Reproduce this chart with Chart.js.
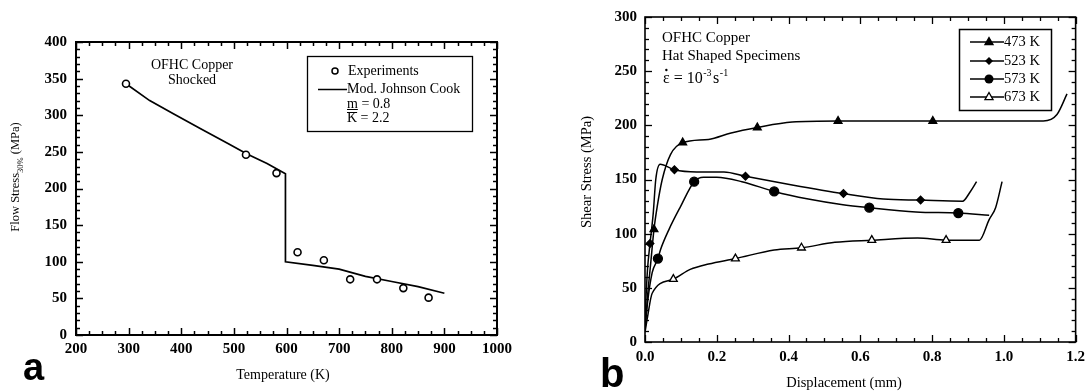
<!DOCTYPE html>
<html><head><meta charset="utf-8">
<script src="https://cdn.jsdelivr.net/npm/chart.js@4"></script>
<style>
html,body{margin:0;padding:0;background:#fff;}
#wrap{position:relative;width:1091px;height:392px;overflow:hidden;background:#fff;}
canvas{position:absolute;top:0;}
#ca{left:0;} #cb{left:545px;}
</style></head><body>
<div id="wrap"><canvas id="ca" width="545" height="392"></canvas><canvas id="cb" width="546" height="392"></canvas></div>
<script>
// ---------- Panel a data ----------
const tempTicks = [200, 300, 400, 500, 600, 700, 800, 900, 1000];
const tempTickLabels = ['200', '300', '400', '500', '600', '700', '800', '900', '1000'];
const flowTicks = [0, 50, 100, 150, 200, 250, 300, 350, 400];
const expTemp   = [295, 523, 581, 621, 671, 721, 772, 822, 870];
const expStress = [343, 246, 221, 113, 102, 76, 76, 64, 51];
const jcTemp    = [295, 340, 385, 436, 487, 525, 563, 598, 598, 650, 700, 750, 800, 850, 900];
const jcStress  = [343, 320, 302, 282, 262, 247, 234, 220, 100, 95, 90, 80, 73, 66, 57];

// ---------- Panel b data ----------
const dispTicks = [0, 0.2, 0.4, 0.6, 0.8, 1.0, 1.2];
const dispTickLabels = ['0.0', '0.2', '0.4', '0.6', '0.8', '1.0', '1.2'];
const shearTicks = [0, 50, 100, 150, 200, 250, 300];

const k473X = [0.0, 0.007, 0.016, 0.025, 0.034, 0.048, 0.071, 0.105, 0.177, 0.24, 0.313, 0.41, 0.538, 0.7, 0.802, 0.95, 1.11, 1.148, 1.176];
const k473Y = [11, 42, 73, 104, 125, 150, 173, 184, 187, 193, 198, 203, 204, 204, 204, 204, 204, 210, 229];
const k473MarkX = [0.025, 0.105, 0.313, 0.538, 0.802];
const k473MarkY = [104, 184, 198, 204, 204];

const k523X = [0.0, 0.007, 0.014, 0.023, 0.03, 0.042, 0.082, 0.144, 0.22, 0.28, 0.41, 0.553, 0.664, 0.768, 0.885, 0.905, 0.924];
const k523Y = [23, 67, 91, 119, 150, 164, 159, 157, 157, 153, 145, 137, 132, 131, 130, 138, 148];
const k523MarkX = [0.014, 0.082, 0.28, 0.553, 0.768];
const k523MarkY = [91, 159, 153, 137, 131];

const k573X = [0.0, 0.007, 0.02, 0.036, 0.043, 0.067, 0.099, 0.137, 0.163, 0.2, 0.27, 0.36, 0.455, 0.547, 0.625, 0.755, 0.873, 0.959];
const k573Y = [11, 36, 64, 77, 85, 104, 125, 148, 152, 152, 148, 139, 132, 127, 124, 120, 119, 117];
const k573MarkX = [0.036, 0.137, 0.36, 0.625, 0.873];
const k573MarkY = [77, 148, 139, 124, 119];

const k673X = [0.0, 0.007, 0.02, 0.079, 0.126, 0.177, 0.252, 0.36, 0.436, 0.529, 0.632, 0.76, 0.839, 0.932, 0.959, 0.977, 0.995];
const k673Y = [9, 23, 45, 58, 67, 72, 77, 85, 87, 92, 94, 96, 94, 94, 113, 124, 148];
const k673MarkX = [0.079, 0.252, 0.436, 0.632, 0.839];
const k673MarkY = [58, 77, 87, 94, 94];

const seriesLabels = ['473 K', '523 K', '573 K', '673 K'];

// ---------- helpers ----------
const SERIF = "'Liberation Serif','Times New Roman',serif";
const SANS = "'Liberation Sans',Arial,sans-serif";
const pts = (xs, ys) => xs.map((v, i) => ({x: v, y: ys[i]}));

function drawText(ctx, s, x, y, size, o = {}) {
  ctx.save();
  ctx.font = (o.weight || '') + ' ' + size + 'px ' + (o.family || SERIF);
  ctx.fillStyle = '#000';
  ctx.textAlign = o.align || 'left';
  ctx.textBaseline = o.base || 'middle';
  ctx.fillText(s, x, y);
  const w = ctx.measureText(s).width;
  ctx.restore();
  return w;
}
function line(ctx, x1, y1, x2, y2) { ctx.beginPath(); ctx.moveTo(x1, y1); ctx.lineTo(x2, y2); ctx.stroke(); }

function drawMarker(ctx, style, x, y) {
  ctx.save();
  ctx.strokeStyle = '#000'; ctx.fillStyle = '#000'; ctx.lineWidth = 1.3;
  ctx.beginPath();
  if (style === 'triangle' || style === 'opentri') {
    const r = 4.5;
    ctx.moveTo(x, y - r); ctx.lineTo(x + r * 0.9, y + r * 0.6); ctx.lineTo(x - r * 0.9, y + r * 0.6); ctx.closePath();
    if (style === 'opentri') { ctx.fillStyle = '#fff'; }
    ctx.fill(); ctx.stroke();
  } else if (style === 'diamond') {
    const r = 4;
    ctx.moveTo(x, y - r); ctx.lineTo(x + r, y); ctx.lineTo(x, y + r); ctx.lineTo(x - r, y); ctx.closePath(); ctx.fill();
  } else if (style === 'circle') {
    ctx.arc(x, y, 4.5, 0, Math.PI * 2); ctx.fill();
  }
  ctx.restore();
}

function frameTicks(o) {
  return {
    id: 'frameTicks',
    afterDraw(chart) {
      const {ctx, chartArea: a} = chart;
      const x = chart.scales.x, y = chart.scales.y;
      ctx.save();
      ctx.strokeStyle = '#000';
      ctx.lineWidth = o.tickWidth;
      const nx = Math.round((x.max - x.min) / o.xMinor);
      for (let i = 0; i <= nx; i++) {
        const v = x.min + i * o.xMinor;
        const major = i % o.xEvery === 0;
        const len = major ? o.major : o.minor;
        const px = Math.round(x.getPixelForValue(v)) + 0.5;
        line(ctx, px, a.bottom, px, a.bottom - len);
        line(ctx, px, a.top, px, a.top + len);
      }
      const ny = Math.round((y.max - y.min) / o.yMinor);
      for (let i = 0; i <= ny; i++) {
        const v = y.min + i * o.yMinor;
        const major = i % o.yEvery === 0;
        const len = major ? o.major : o.minor;
        const py = Math.round(y.getPixelForValue(v)) + 0.5;
        line(ctx, a.left, py, a.left + len, py);
        line(ctx, a.right, py, a.right - len, py);
      }
      ctx.lineWidth = o.frameWidth;
      ctx.strokeRect(a.left, a.top, a.right - a.left, a.bottom - a.top);
      ctx.restore();
    }
  };
}

// ---------- Panel a ----------
const textA = {
  id: 'textA',
  afterDraw(chart) {
    const ctx = chart.ctx;
    drawText(ctx, 'OFHC Copper', 192, 65, 14, {align: 'center'});
    drawText(ctx, 'Shocked', 192, 80, 14, {align: 'center'});
    // legend
    ctx.save(); ctx.strokeStyle = '#000'; ctx.lineWidth = 1.3;
    ctx.strokeRect(307.5, 56.5, 165, 75);
    ctx.lineWidth = 1.5;
    ctx.beginPath(); ctx.arc(335, 71, 3, 0, Math.PI * 2); ctx.stroke();
    line(ctx, 318, 89.5, 347, 89.5);
    ctx.restore();
    drawText(ctx, chart.data.datasets[0].label, 348, 71, 14);
    drawText(ctx, chart.data.datasets[1].label, 347, 89.5, 14);
    const wm = drawText(ctx, 'm', 347, 104, 14);
    drawText(ctx, ' = 0.8', 347 + wm, 104, 14);
    const wk = drawText(ctx, 'K', 347, 118, 14);
    drawText(ctx, ' = 2.2', 347 + wk, 118, 14);
    ctx.save(); ctx.strokeStyle = '#000'; ctx.lineWidth = 1;
    line(ctx, 347, 109.5, 347 + wm, 109.5);
    line(ctx, 347, 112.5, 347 + wk, 112.5);
    ctx.restore();
    // axis titles
    ctx.save();
    ctx.translate(16, 177); ctx.rotate(-Math.PI / 2);
    ctx.font = '12.5px ' + SERIF;
    const s1 = 'Flow Stress', s3 = ' (MPa)';
    const w1 = ctx.measureText(s1).width, w3 = ctx.measureText(s3).width;
    ctx.font = '8.5px ' + SERIF;
    const w2 = ctx.measureText('30%').width;
    let sx = -(w1 + w2 + w3) / 2;
    ctx.fillStyle = '#000'; ctx.textBaseline = 'middle';
    ctx.font = '12.5px ' + SERIF; ctx.fillText(s1, sx, 0);
    ctx.font = '8.5px ' + SERIF; ctx.fillText('30%', sx + w1, 5);
    ctx.font = '12.5px ' + SERIF; ctx.fillText(s3, sx + w1 + w2, 0);
    ctx.restore();
    drawText(ctx, 'Temperature (K)', 283, 375, 14, {align: 'center'});
    drawText(ctx, 'a', 23, 380, 38, {weight: 'bold', family: SANS, base: 'alphabetic'});
  }
};

new Chart(document.getElementById('ca'), {
  type: 'scatter',
  data: {
    datasets: [
      {label: 'Experiments', data: pts(expTemp, expStress), showLine: false, pointStyle: 'circle',
       pointRadius: 3.5, pointBorderWidth: 1.6, pointBorderColor: '#000', pointBackgroundColor: '#fff'},
      {label: 'Mod. Johnson Cook', data: pts(jcTemp, jcStress), showLine: true, borderColor: '#000',
       borderWidth: 1.7, pointRadius: 0, tension: 0, fill: false}
    ]
  },
  options: {
    responsive: false, animation: false, devicePixelRatio: 1,
    layout: {padding: {top: 42, right: 48, left: 0, bottom: 0}},
    plugins: {legend: {display: false}, tooltip: {enabled: false}},
    scales: {
      x: {type: 'linear', min: 200, max: 1000,
          afterBuildTicks: s => { s.ticks = tempTicks.map(v => ({value: v})); },
          ticks: {color: '#000', font: {family: SERIF, size: 15, weight: 'bold'}, padding: 5, maxRotation: 0, autoSkip: false,
                  callback: (v, i) => tempTickLabels[i]},
          grid: {display: false, drawTicks: false}, border: {display: false},
          afterFit: s => { s.height = 57; }},
      y: {type: 'linear', min: 0, max: 400,
          afterBuildTicks: s => { s.ticks = flowTicks.map(v => ({value: v})); },
          ticks: {color: '#000', font: {family: SERIF, size: 15, weight: 'bold'}, padding: 9, autoSkip: false,
                  callback: v => String(v)},
          grid: {display: false, drawTicks: false}, border: {display: false},
          afterFit: s => { s.width = 76; }}
    }
  },
  plugins: [frameTicks({xMinor: 25, xEvery: 4, yMinor: 10, yEvery: 5, major: 7, minor: 4, tickWidth: 1.5, frameWidth: 2}), textA]
});

// ---------- Panel b ----------
const markerStyles = ['triangle', 'diamond', 'circle', 'opentri'];
const textB = {
  id: 'textB',
  afterDraw(chart) {
    const ctx = chart.ctx;
    drawText(ctx, 'OFHC Copper', 117, 38, 15);
    drawText(ctx, 'Hat Shaped Specimens', 117, 56, 15);
    const we = drawText(ctx, '\u03b5', 118, 79, 16);
    ctx.save(); ctx.fillStyle = '#000'; ctx.beginPath(); ctx.arc(118 + we / 2, 70, 1.2, 0, Math.PI * 2); ctx.fill(); ctx.restore();
    let cx = 118 + we;
    cx += drawText(ctx, ' = 10', cx, 79, 16);
    cx += drawText(ctx, '-3', cx + 0.5, 73, 10) + 2;
    cx += drawText(ctx, 's', cx, 79, 16);
    drawText(ctx, '-1', cx + 0.5, 73, 10);
    // legend
    ctx.save(); ctx.strokeStyle = '#000'; ctx.lineWidth = 1.5;
    ctx.strokeRect(414.5, 29.5, 92, 81);
    ctx.lineWidth = 1.3;
    const ys = [42, 61, 79, 97];
    seriesLabels.forEach((lab, i) => {
      line(ctx, 425, ys[i], 459, ys[i]);
      drawMarker(ctx, markerStyles[i], 444, ys[i]);
      drawText(ctx, lab, 459, ys[i], 14.5);
    });
    ctx.restore();
    // titles
    ctx.save();
    ctx.translate(42, 172); ctx.rotate(-Math.PI / 2);
    drawText(ctx, 'Shear Stress (MPa)', 0, 0, 14.5, {align: 'center'});
    ctx.restore();
    drawText(ctx, 'Displacement (mm)', 299, 383, 14.5, {align: 'center'});
    drawText(ctx, 'b', 55, 387, 40, {weight: 'bold', family: SANS, base: 'alphabetic'});
  }
};

const lineDs = (xs, ys) => ({data: pts(xs, ys), showLine: true, borderColor: '#000', borderWidth: 1.5,
  pointRadius: 0, cubicInterpolationMode: 'monotone', fill: false});
const markDs = (xs, ys, style, r, open) => ({data: pts(xs, ys), showLine: false, pointStyle: style,
  pointRadius: r, pointBorderColor: '#000', pointBorderWidth: 1.3, pointBackgroundColor: open ? '#fff' : '#000'});

new Chart(document.getElementById('cb'), {
  type: 'scatter',
  data: {
    datasets: [
      markDs(k473MarkX, k473MarkY, 'triangle', 4.5, false),
      markDs(k523MarkX, k523MarkY, 'rectRot', 3.8, false),
      markDs(k573MarkX, k573MarkY, 'circle', 4.5, false),
      markDs(k673MarkX, k673MarkY, 'triangle', 4.5, true),
      lineDs(k473X, k473Y),
      lineDs(k523X, k523Y),
      lineDs(k573X, k573Y),
      lineDs(k673X, k673Y)
    ]
  },
  options: {
    responsive: false, animation: false, devicePixelRatio: 1,
    layout: {padding: {top: 17, right: 13, left: 0, bottom: 0}},
    plugins: {legend: {display: false}, tooltip: {enabled: false}},
    scales: {
      x: {type: 'linear', min: 0, max: 1.2,
          afterBuildTicks: s => { s.ticks = dispTicks.map(v => ({value: v})); },
          ticks: {color: '#000', font: {family: SERIF, size: 15, weight: 'bold'}, padding: 6, maxRotation: 0, autoSkip: false,
                  callback: (v, i) => dispTickLabels[i]},
          grid: {display: false, drawTicks: false}, border: {display: false},
          afterFit: s => { s.height = 50; }},
      y: {type: 'linear', min: 0, max: 300,
          afterBuildTicks: s => { s.ticks = shearTicks.map(v => ({value: v})); },
          ticks: {color: '#000', font: {family: SERIF, size: 15, weight: 'bold'}, padding: 8, autoSkip: false,
                  callback: v => String(v)},
          grid: {display: false, drawTicks: false}, border: {display: false},
          afterFit: s => { s.width = 100; }}
    }
  },
  plugins: [frameTicks({xMinor: 0.05, xEvery: 4, yMinor: 10, yEvery: 5, major: 7, minor: 4, tickWidth: 1.3, frameWidth: 1.6}), textB]
});
</script>
</body></html>
